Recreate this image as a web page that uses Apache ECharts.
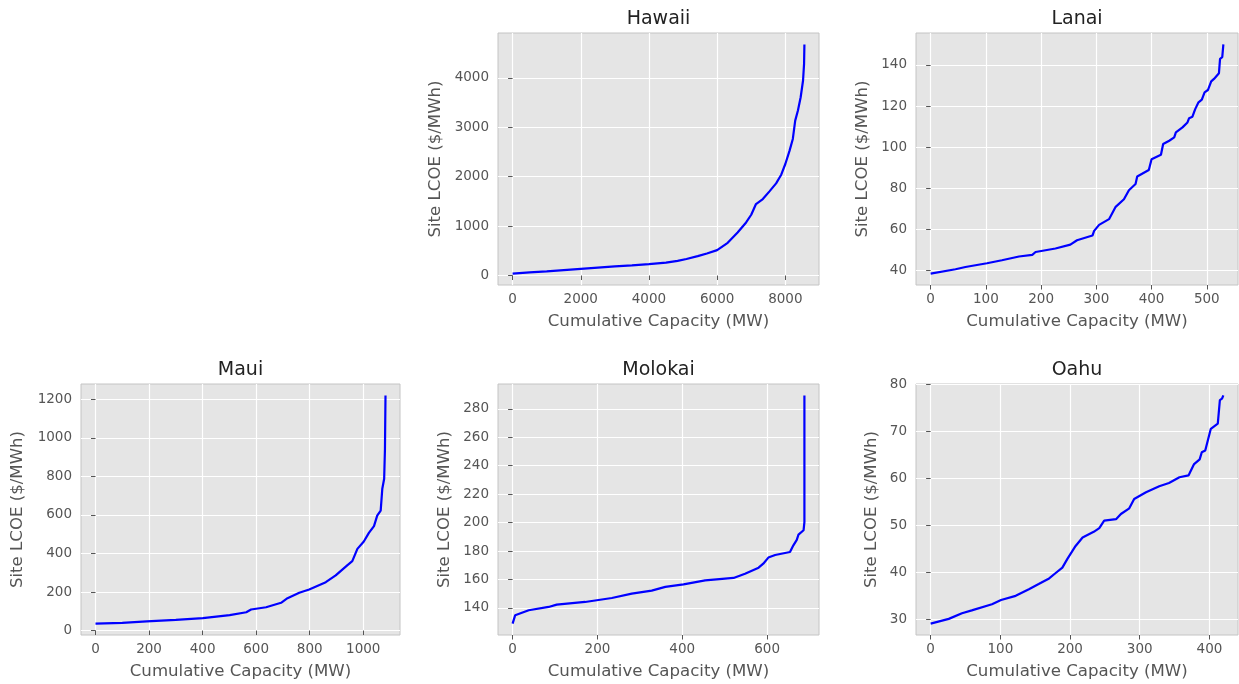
<!DOCTYPE html>
<html><head><meta charset="utf-8">
<script src="https://cdn.jsdelivr.net/npm/echarts@6/dist/echarts.min.js"></script>
<style>html,body{margin:0;padding:0;background:#fff}#c{width:1239px;height:684px}</style>
</head><body><div id="c"></div>
<script>
// ---- Data (cumulative capacity MW, site LCOE $/MWh) ----
const titles = ['Hawaii', 'Lanai', 'Maui', 'Molokai', 'Oahu'];
const xName = 'Cumulative Capacity (MW)';
const yName = 'Site LCOE ($/MWh)';

const hawaiiData = [[0,40],[500,62],[1000,85],[1500,110],[2000,135],[2500,160],[3000,185],[3500,205],[4000,230],[4500,262],[4840,297],[5100,335],[5430,392],[5700,445],[6000,514],[6310,662],[6600,872],[6850,1074],[7000,1230],[7140,1446],[7340,1547],[7535,1703],[7730,1865],[7880,2040],[8000,2257],[8125,2527],[8220,2764],[8290,3135],[8370,3338],[8450,3608],[8520,3946],[8550,4284],[8560,4676]];
const lanaiData = [[0,38.4],[45,40.5],[63,41.6],[102,43.4],[129,44.9],[160,46.7],[184,47.5],[190,48.9],[226,50.6],[253,52.5],[265,54.6],[293,56.9],[296,59.2],[305,62.1],[323,64.9],[335,70.9],[350,74.6],[359,79.0],[371,82.0],[374,85.7],[395,88.8],[400,94.1],[417,96.3],[421,101.5],[432,103.1],[441,104.7],[444,107.2],[456,109.6],[465,112.0],[468,114.1],[474,114.8],[479,118.5],[485,121.8],[491,123.1],[496,126.7],[502,127.8],[508,132.0],[513,133.2],[522,136.0],[524,143.0],[528,143.8],[530,150.0]];
const mauiData = [[0,36],[100,40],[191,47],[300,55],[401,64],[501,80],[563,95],[581,109],[637,121],[693,144],[717,168],[761,196],[798,213],[860,251],[897,286],[940,338],[959,360],[978,424],[1002,462],[1021,507],[1040,542],[1052,597],[1065,623],[1071,736],[1078,788],[1081,944],[1083,1221]];
const molokaiData = [[0,129],[6,134.8],[38,138.4],[85,140.7],[104,142.3],[171,144.2],[234,147.0],[281,150.1],[328,152.2],[360,154.8],[403,156.6],[454,159.4],[521,161.1],[548,164.1],[580,168.3],[591,171.1],[603,175.4],[619,177.2],[654,179.3],[662,184.0],[670,187.8],[674,191.5],[686,194.6],[688,200.4],[688,289.4]];
const oahuData = [[0,29.1],[26,30.1],[45,31.3],[59,31.9],[88,33.2],[101,34.1],[122,35.0],[141,36.4],[155,37.5],[170,38.7],[179,39.8],[189,41.0],[196,42.8],[208,45.6],[218,47.4],[234,48.6],[242,49.4],[249,51.0],[266,51.3],[273,52.4],[285,53.6],[292,55.6],[309,57.0],[328,58.3],[342,59.0],[357,60.2],[370,60.6],[378,63.0],[386,64.0],[389,65.5],[394,65.9],[402,70.5],[412,71.6],[415,76.6],[418,76.9],[420,77.6]];

// ---- Tick labels ----
const hawaiiXTicks = [0,2000,4000,6000,8000];
const hawaiiYTicks = [0,1000,2000,3000,4000];
const lanaiXTicks = [0,100,200,300,400,500];
const lanaiYTicks = [40,60,80,100,120,140];
const mauiXTicks = [0,200,400,600,800,1000];
const mauiYTicks = [0,200,400,600,800,1000,1200];
const molokaiXTicks = [0,200,400,600];
const molokaiYTicks = [140,160,180,200,220,240,260,280];
const oahuXTicks = [0,100,200,300,400];
const oahuYTicks = [30,40,50,60,70,80];

// ---- Layout ----
const panels = [
  {data: hawaiiData, xt: hawaiiXTicks, yt: hawaiiYTicks, box: [498, 33, 321, 252], yGap: 54},
  {data: lanaiData, xt: lanaiXTicks, yt: lanaiYTicks, box: [916, 33, 322, 252], yGap: 45},
  {data: mauiData, xt: mauiXTicks, yt: mauiYTicks, box: [81, 384, 319, 251], yGap: 55},
  {data: molokaiData, xt: molokaiXTicks, yt: molokaiYTicks, box: [498, 384, 321, 251], yGap: 45},
  {data: oahuData, xt: oahuXTicks, yt: oahuYTicks, box: [916, 384, 322, 251], yGap: 36}
];

const FONT = 'DejaVu Sans';
function range(vals) {
  const mn = Math.min(...vals), mx = Math.max(...vals);
  const pad = (mx - mn) * 0.05;
  return [mn - pad, mx + pad];
}
const plain = v => String(Math.round(v * 1000) / 1000);

const option = {
  animation: false,
  backgroundColor: '#ffffff',
  title: [], grid: [], xAxis: [], yAxis: [], series: []
};

panels.forEach((p, i) => {
  const [l, t, w, h] = p.box;
  const xr = range(p.data.map(d => d[0]));
  const yr = range(p.data.map(d => d[1]));
  option.title.push({
    text: titles[i], left: l + w / 2, top: t - 23, textAlign: 'center', padding: 0,
    textStyle: {fontFamily: FONT, fontSize: 19, fontWeight: 'normal', color: '#222222'}
  });
  option.grid.push({
    left: l, top: t, width: w, height: h, containLabel: false, show: true,
    backgroundColor: '#E5E5E5', borderColor: '#c4c4c4', borderWidth: 1
  });
  const tickStyle = {show: true, length: 4.5, inside: false, lineStyle: {color: '#555555', width: 1}};
  option.xAxis.push({
    type: 'value', gridIndex: i, min: xr[0], max: xr[1],
    name: xName, nameLocation: 'middle', nameGap: 28,
    nameTextStyle: {fontFamily: FONT, fontSize: 16.6, color: '#555555'},
    axisLine: {show: false},
    axisTick: Object.assign({customValues: p.xt}, tickStyle),
    axisLabel: {customValues: p.xt, formatter: plain, margin: 7, fontFamily: FONT, fontSize: 13.5, color: '#555555', showMinLabel: true, showMaxLabel: true},
    splitLine: {show: true, lineStyle: {color: '#ffffff', width: 1.2}}
  });
  option.yAxis.push({
    type: 'value', gridIndex: i, min: yr[0], max: yr[1],
    name: yName, nameLocation: 'middle', nameGap: p.yGap, nameRotate: 90,
    nameTextStyle: {fontFamily: FONT, fontSize: 16.6, color: '#555555'},
    axisLine: {show: false},
    axisTick: Object.assign({customValues: p.yt}, tickStyle),
    axisLabel: {customValues: p.yt, formatter: plain, margin: 9, fontFamily: FONT, fontSize: 13.5, color: '#555555', showMinLabel: true, showMaxLabel: true},
    splitLine: {show: true, lineStyle: {color: '#ffffff', width: 1.2}}
  });
  option.series.push({
    type: 'line', xAxisIndex: i, yAxisIndex: i, data: p.data,
    showSymbol: false, symbol: 'none', smooth: false,
    lineStyle: {color: '#0000ff', width: 2.2}
  });
});

const chart = echarts.init(document.getElementById('c'), null, {renderer: 'canvas'});
chart.setOption(option);
</script>
</body></html>
